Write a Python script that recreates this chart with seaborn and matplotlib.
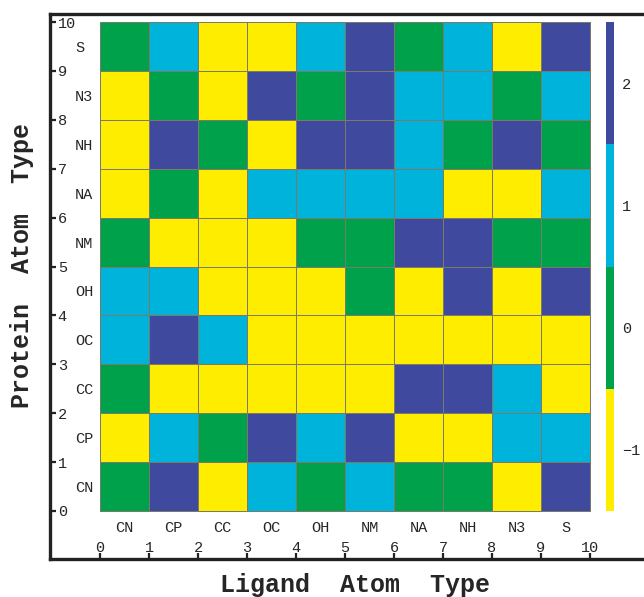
import matplotlib
matplotlib.use("Agg")
import matplotlib.pyplot as plt
import seaborn as sns
import pandas as pd
from matplotlib.colors import ListedColormap

# Data: score matrix, rows are protein atom types (bottom to top), columns ligand atom types
ligand_types = ["CN", "CP", "CC", "OC", "OH", "NM", "NA", "NH", "N3", "S"]
protein_types = ["CN", "CP", "CC", "OC", "OH", "NM", "NA", "NH", "N3", "S"]

row_cn = [0, 2, -1, 1, 0, 1, 0, 0, -1, 2]
row_cp = [-1, 1, 0, 2, 1, 2, -1, -1, 1, 1]
row_cc = [0, -1, -1, -1, -1, -1, 2, 2, 1, -1]
row_oc = [1, 2, 1, -1, -1, -1, -1, -1, -1, -1]
row_oh = [1, 1, -1, -1, -1, 0, -1, 2, -1, 2]
row_nm = [0, -1, -1, -1, 0, 0, 2, 2, 0, 0]
row_na = [-1, 0, -1, 1, 1, 1, 1, -1, -1, 1]
row_nh = [-1, 2, 0, -1, 2, 2, 1, 0, 2, 0]
row_n3 = [-1, 0, -1, 2, 0, 2, 1, 1, 0, 1]
row_s = [0, 1, -1, -1, 1, 2, 0, 1, -1, 2]

score_levels = [-1, 0, 1, 2]
level_colors = ["#FFED00", "#00A14B", "#00B3DA", "#3F4A9E"]

sns.set_theme(style="white")
plt.rcParams["font.family"] = ["Liberation Mono", "DejaVu Sans Mono"]

scores = pd.DataFrame(
    [row_cn, row_cp, row_cc, row_oc, row_oh, row_nm, row_na, row_nh, row_n3, row_s],
    index=protein_types, columns=ligand_types,
)

W, H = 644, 597
fig = plt.figure(figsize=(W / 100, H / 100), dpi=100)

# main axes: frame spans px 50..660 (x) and 14..559 (y)
ax = fig.add_axes([50 / W, 1 - 559 / H, 610 / W, 545 / H])
cax = fig.add_axes([606 / W, 1 - 511 / H, 8 / W, 489 / H])

cmap = ListedColormap(level_colors)
sns.heatmap(
    scores, ax=ax, cbar_ax=cax, cmap=cmap, vmin=-1.5, vmax=2.5,
    linewidths=0.5, linecolor="#7a7a6a",
    xticklabels=False, yticklabels=False,
    cbar_kws={"ticks": score_levels},
)

# cells are 49 px wide / 48.9 px tall; heatmap box at px 100..590, 22..511
ax.set_xlim(-50 / 49, 560 / 49)
ax.set_ylim(-48 / 48.9, 497 / 48.9)

for side in ["left", "top", "bottom"]:
    ax.spines[side].set_visible(True)
    ax.spines[side].set_linewidth(2.4)
    ax.spines[side].set_color("#222222")
ax.spines["right"].set_visible(False)

ticks = list(range(11))
centers = [i + 0.5 for i in range(10)]
ax.set_xticks(ticks, labels=[str(t) for t in ticks], va="center")
ax.set_yticks(ticks, labels=[str(t) for t in ticks], ha="left")
ax.set_xticks(centers, labels=ligand_types, minor=True, va="center")
ax.set_yticks(centers, labels=protein_types, minor=True, ha="left")

ax.tick_params(axis="x", which="major", direction="in", bottom=True, top=False,
               length=4, width=1.6, color="#222222", pad=-8, labelsize=11)
ax.tick_params(axis="y", which="major", direction="in", left=True, right=False,
               length=4, width=1.6, color="#222222", pad=-5.5, labelsize=11)
ax.tick_params(axis="x", which="minor", length=0, pad=-22.5, labelsize=11)
ax.tick_params(axis="y", which="minor", length=0, pad=-18, labelsize=11)

ax.set_xlabel("Ligand  Atom  Type", fontsize=18, fontweight="bold")
ax.set_ylabel("Protein  Atom  Type", fontsize=18, fontweight="bold")
ax.xaxis.set_label_coords((355 - 50) / 610, -(585 - 559) / 545)
ax.yaxis.set_label_coords(-(50 - 22) / 610, 1 - (265 - 14) / 545)
ax.xaxis.label.set_va("center")
ax.yaxis.label.set_va("center")

cbar = ax.collections[0].colorbar
cbar.outline.set_visible(False)
cax.tick_params(length=0, pad=6, labelsize=11)

fig.savefig("out.png", dpi=100)
